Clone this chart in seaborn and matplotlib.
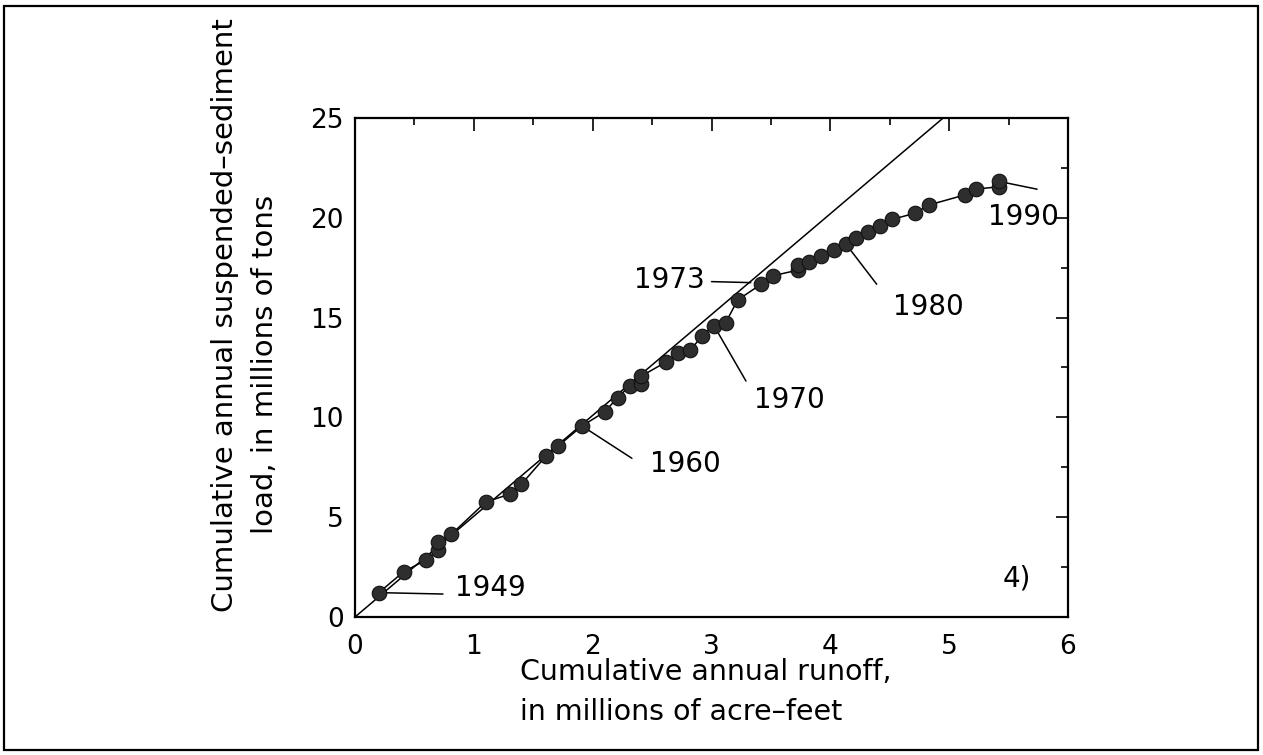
import numpy as np
import pandas as pd
import matplotlib.pyplot as plt
import matplotlib.patches as patches
import seaborn as sns

# cumulative annual runoff (million acre-feet) and suspended-sediment load (million tons), 1949-1990
runoff = [0.20, 0.41, 0.60, 0.70, 0.70, 0.81, 1.10, 1.30, 1.40, 1.61, 1.71, 1.91,
          2.10, 2.21, 2.31, 2.41, 2.41, 2.62, 2.72, 2.82, 2.92, 3.02, 3.12, 3.22,
          3.42, 3.52, 3.73, 3.73, 3.82, 3.92, 4.03, 4.13, 4.22, 4.32, 4.42, 4.52,
          4.71, 4.83, 5.13, 5.23, 5.42, 5.42]
load = [1.22, 2.27, 2.86, 3.36, 3.77, 4.14, 5.76, 6.15, 6.65, 8.08, 8.57, 9.57,
        10.27, 10.99, 11.56, 11.66, 12.07, 12.78, 13.20, 13.35, 14.08, 14.60, 14.75, 15.88,
        16.68, 17.10, 17.38, 17.63, 17.80, 18.09, 18.39, 18.69, 19.00, 19.30, 19.59, 19.92,
        20.22, 20.64, 21.14, 21.44, 21.55, 21.82]
years = list(range(1949, 1991))

# straight reference line through origin
ref_x = [0.0, 4.95]
ref_y = [0.0, 25.0]

x_ticks = [0, 1, 2, 3, 4, 5, 6]
y_ticks = [0, 5, 10, 15, 20, 25]

df = pd.DataFrame({'runoff': runoff, 'load': load, 'year': years})

sns.set_style('white')
plt.rcParams['font.family'] = ['DejaVu Sans']
plt.rcParams['text.color'] = 'black'

fig = plt.figure(figsize=(12.63, 7.55), dpi=100)
ax = fig.add_axes([0.2811, 0.1828, 0.5645, 0.661])

sns.lineplot(x=ref_x, y=ref_y, ax=ax, color='black', lw=1.1, sort=False)
sns.lineplot(data=df, x='runoff', y='load', ax=ax, color='black', lw=1.1,
             sort=False, estimator=None)
sns.scatterplot(data=df, x='runoff', y='load', ax=ax, s=110, color='#2e2e2e',
                edgecolor='#111111', linewidth=0.8, zorder=3)

ax.set_xlim(0, 6)
ax.set_ylim(0, 25)
ax.set_xticks(x_ticks)
ax.set_yticks(y_ticks)
ax.set_xticks(np.arange(0.5, 6, 1), minor=True)
ax.set_yticks(np.arange(2.5, 25, 5), minor=True)
ax.tick_params(which='both', direction='in', top=True, right=True, width=1.2,
               colors='black', labelsize=19)
ax.tick_params(which='major', length=9)
ax.tick_params(which='minor', length=5)
ax.tick_params(axis='x', pad=12)
ax.tick_params(axis='y', pad=8)
for s in ax.spines.values():
    s.set_color('black')
    s.set_linewidth(1.6)
ax.set_xlabel('')
ax.set_ylabel('')

fs = 20
# year annotations: (year, pointer end, text position)
notes = [
    (1949, (0.74, 1.15), (0.84, 1.45)),
    (1960, (2.33, 7.95), (2.48, 7.66)),
    (1970, (3.29, 11.82), (3.36, 10.87)),
    (1980, (4.39, 16.67), (4.53, 15.55)),
    (1990, (5.74, 21.43), (5.33, 20.06)),
]
for yr, end, txt in notes:
    i = years.index(yr)
    ax.plot([runoff[i], end[0]], [load[i], end[1]], color='black', lw=1.1)
    ax.text(txt[0], txt[1], str(yr), fontsize=fs, ha='left', va='center')

ax.plot([3.0, 3.33], [16.8, 16.75], color='black', lw=1.1)
ax.text(2.94, 16.88, '1973', fontsize=fs, ha='right', va='center')
ax.text(5.45, 1.95, '4)', fontsize=fs, ha='left', va='center')

# axis labels
fig.text(225 / 1263, 1 - 315 / 755, 'Cumulative annual suspended–sediment',
         rotation=90, fontsize=21, ha='center', va='center')
fig.text(265 / 1263, 1 - 364 / 755, 'load, in millions of tons',
         rotation=90, fontsize=21, ha='center', va='center')
fig.text(520 / 1263, 1 - 672 / 755, 'Cumulative annual runoff,',
         fontsize=20.5, ha='left', va='center')
fig.text(520 / 1263, 1 - 712 / 755, 'in millions of acre–feet',
         fontsize=20.5, ha='left', va='center')

# outer frame
fig.patches.append(patches.Rectangle((4 / 1263, 5 / 755), 1254 / 1263, 744 / 755,
                                     transform=fig.transFigure, fill=False,
                                     edgecolor='black', lw=1.6))

fig.savefig('out.png', dpi=100)
